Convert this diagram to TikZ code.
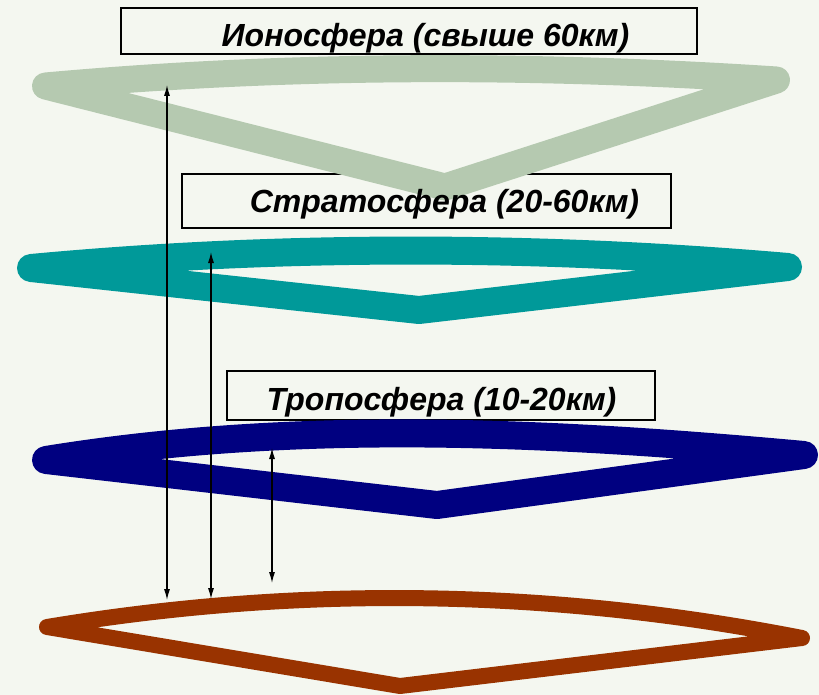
\documentclass[tikz,border=0pt]{standalone}
\usepackage{fontspec}
\setmainfont{Liberation Sans}
\usetikzlibrary{arrows.meta}
\definecolor{bgcol}{RGB}{244,247,240}
\definecolor{ionocol}{RGB}{181,201,176}
\definecolor{stratocol}{RGB}{0,153,153}
\definecolor{tropocol}{RGB}{0,0,128}
\definecolor{groundcol}{RGB}{153,51,0}
\tikzset{
  boxst/.style={draw=black, line width=1.3pt, inner sep=0pt},
  labelst/.style={anchor=base, inner sep=0pt, font=\fontsize{32}{38}\selectfont\bfseries\itshape},
  layer/.style={line join=round, line cap=round},
  heightarrow/.style={line width=1.2pt, {Latex[length=11pt,width=6pt]}-{Latex[length=11pt,width=6pt]}}
}
\begin{document}
\begin{tikzpicture}[x=1pt,y=-1pt]
\fill[bgcol] (0,0) rectangle (819,695);
\useasboundingbox (0,0) rectangle (819,695);
% text frames
\node[boxst, minimum width=576pt, minimum height=46pt] (box1) at (409,31) {};
\node[boxst, minimum width=489pt, minimum height=54pt] (box2) at (426.5,201) {};
\node[boxst, minimum width=428pt, minimum height=49pt] (box3) at (441,395.5) {};
% layers
\draw[layer, ionocol, line width=27pt] (45.5,86) .. controls (289.2,64) and (532.8,64) .. (776.5,80) -- (445,187) -- cycle;
\draw[layer, stratocol, line width=28pt] (31,268) .. controls (283.7,244.5) and (536,245.3) .. (788,267) -- (419,310) -- cycle;
\draw[layer, tropocol, line width=28pt] (46,460) .. controls (298.7,419) and (551.3,432) .. (804,455) -- (437,505) -- cycle;
\draw[layer, groundcol, line width=16pt] (47,627) .. controls (299,585) and (550.7,588.7) .. (802,638) -- (400,686) -- cycle;
% labels
\node[labelst] (lab1) at (425.5,47) {Ионосфера (свыше 60км)};
\node[labelst] (lab2) at (444.5,213) {Стратосфера (20-60км)};
\node[labelst] (lab3) at (441.5,410) {Тропосфера (10-20км)};
% height arrows
\coordinate (a1t) at (167,85);
\coordinate (a1b) at (167,600);
\coordinate (a2t) at (211,252);
\coordinate (a2b) at (211,599);
\coordinate (a3t) at (272,448);
\coordinate (a3b) at (272,583);
\draw[heightarrow] (a1b) -- (a1t);
\draw[heightarrow] (a2b) -- (a2t);
\draw[heightarrow] (a3b) -- (a3t);
\end{tikzpicture}
\end{document}
